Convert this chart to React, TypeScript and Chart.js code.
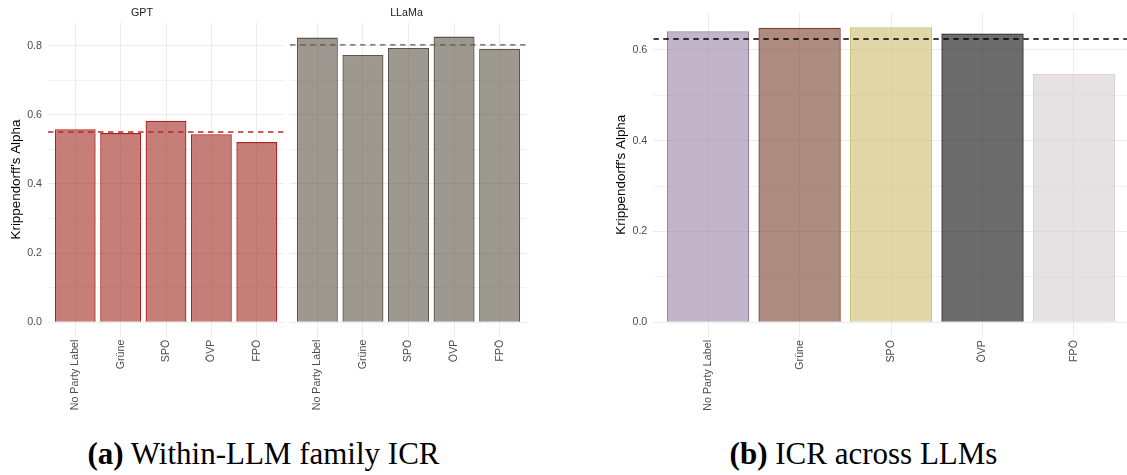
import React, { useEffect, useRef } from 'react';
import { Chart, registerables } from 'chart.js';

Chart.register(...registerables);

// ---------- data ----------
const categories = ['No Party Label', 'Grüne', 'SPÖ', 'ÖVP', 'FPÖ'];
const gptAlpha = [0.558, 0.547, 0.583, 0.544, 0.521];
const llamaAlpha = [0.823, 0.773, 0.793, 0.826, 0.791];
const acrossAlpha = [0.641, 0.649, 0.65, 0.636, 0.547];
const gptMean = 0.55;
const llamaMean = 0.802;
const acrossMean = 0.624;
const yTicksA = [0, 0.1, 0.2, 0.3, 0.4, 0.5, 0.6, 0.7, 0.8];
const yTicksB = [0, 0.1, 0.2, 0.3, 0.4, 0.5, 0.6];
const facetTitles = ['GPT', 'LLaMa'];
const yAxisTitle = "Krippendorff's Alpha";
const captionA = ['(a)', 'Within-LLM family ICR'];
const captionB = ['(b)', 'ICR across LLMs'];

// ---------- styles ----------
const gptFill = 'rgba(160,40,32,0.6)';
const gptBorder = 'rgb(175,35,30)';
const llamaFill = 'rgba(93,85,70,0.6)';
const llamaBorder = 'rgb(93,85,70)';
const acrossFills = [
  'rgba(153,132,165,0.6)',
  'rgba(120,62,42,0.6)',
  'rgba(203,187,110,0.6)',
  'rgba(10,10,10,0.6)',
  'rgba(213,205,208,0.6)',
];
const acrossBorders = [
  'rgb(150,130,165)',
  'rgb(125,62,45)',
  'rgb(210,192,120)',
  'rgb(25,25,25)',
  'rgb(218,208,213)',
];

const SANS = "'Liberation Sans', Arial, Helvetica, sans-serif";
const TICK_SIZE = 10.7;
const TITLE_SIZE = 13.4;

interface PanelOpts {
  values: number[];
  mean: number;
  fills: string | string[];
  borders: string | string[];
  meanColor: string;
  title?: string;
  yMin: number;
  yMax: number;
  yTicks: number[];
  showY: boolean;
  yWidth: number;
  yTitlePad: number;
  xMin: number;
  xMax: number;
  xHeight: number;
  padTop: number;
  padRight: number;
}

function makeConfig(o: PanelOpts): any {
  const isMajor = (v: number) => Math.round(v * 10) % 2 === 0;
  return {
    type: 'bar',
    data: {
      datasets: [
        {
          type: 'line',
          data: [
            { x: o.xMin, y: o.mean },
            { x: o.xMax, y: o.mean },
          ],
          borderColor: o.meanColor,
          borderWidth: 1.4,
          borderDash: [5.5, 4.5],
          pointRadius: 0,
          fill: false,
          order: 0,
        },
        {
          type: 'bar',
          data: o.values.map((v, i) => ({ x: i + 1, y: v })),
          backgroundColor: o.fills,
          borderColor: o.borders,
          borderWidth: 1.3,
          barPercentage: 0.9,
          categoryPercentage: 1,
          order: 1,
        },
      ],
    },
    options: {
      animation: false,
      responsive: false,
      maintainAspectRatio: false,
      layout: { padding: { top: o.padTop, right: o.padRight, left: 0, bottom: 0 } },
      plugins: {
        legend: { display: false },
        tooltip: { enabled: false },
        title: o.title
          ? {
              display: true,
              text: o.title,
              color: '#1A1A1A',
              font: { family: SANS, size: TICK_SIZE, weight: 'normal' },
              padding: { top: 6.2, bottom: 3.46 },
            }
          : { display: false },
      },
      scales: {
        x: {
          type: 'linear',
          min: o.xMin,
          max: o.xMax,
          offset: false,
          afterBuildTicks: (s: any) => {
            s.ticks = categories.map((_, i) => ({ value: i + 1 }));
          },
          afterFit: (s: any) => {
            s.height = o.xHeight;
          },
          ticks: {
            autoSkip: false,
            maxRotation: 90,
            minRotation: 90,
            padding: 3,
            color: '#4D4D4D',
            font: { family: SANS, size: TICK_SIZE },
            callback: (_v: any, i: number) => categories[i],
          },
          grid: { color: '#EBEBEB', lineWidth: 1, drawTicks: false, offset: false },
          border: { display: false },
        },
        y: {
          type: 'linear',
          min: o.yMin,
          max: o.yMax,
          afterBuildTicks: (s: any) => {
            s.ticks = o.yTicks.map((v) => ({ value: v }));
          },
          afterFit: (s: any) => {
            s.width = o.yWidth;
          },
          ticks: {
            display: o.showY,
            padding: 6,
            color: '#4D4D4D',
            font: { family: SANS, size: TICK_SIZE },
            callback: (v: number) => (isMajor(v) ? v.toFixed(1) : ''),
          },
          title: {
            display: o.showY,
            text: yAxisTitle,
            color: '#000000',
            font: { family: SANS, size: TITLE_SIZE },
            padding: { top: o.yTitlePad, bottom: 0 },
          },
          grid: {
            drawTicks: false,
            color: (c: any) => (c.tick && isMajor(c.tick.value) ? '#EBEBEB' : '#F2F2F2'),
            lineWidth: 1,
          },
          border: { display: false },
        },
      },
    },
  };
}

function Panel({ left, width, height, opts }: { left: number; width: number; height: number; opts: PanelOpts }) {
  const ref = useRef<HTMLCanvasElement | null>(null);
  useEffect(() => {
    if (!ref.current) return;
    const chart = new Chart(ref.current, makeConfig(opts));
    return () => chart.destroy();
  }, []);
  return (
    <canvas
      ref={ref}
      width={width}
      height={height}
      style={{ position: 'absolute', left, top: 0, width, height }}
    />
  );
}

const yMinA = -0.0413;
const yMaxA = 0.8667;
const yMinB = -0.0325;
const yMaxB = 0.6825;

export default function App() {
  const captionStyle: React.CSSProperties = {
    position: 'absolute',
    top: 436,
    textAlign: 'center',
    fontFamily: "'Liberation Serif', 'Times New Roman', serif",
    fontSize: 31,
    color: '#000',
    whiteSpace: 'nowrap',
    lineHeight: '36px',
  };
  return (
    <div style={{ position: 'absolute', left: 0, top: 0, width: 1127, height: 475, background: '#fff' }}>
      <Panel
        left={0}
        width={286}
        height={420}
        opts={{
          values: gptAlpha,
          mean: gptMean,
          fills: gptFill,
          borders: gptBorder,
          meanColor: 'rgb(190,40,35)',
          title: facetTitles[0],
          yMin: yMinA,
          yMax: yMaxA,
          yTicks: yTicksA,
          showY: true,
          yWidth: 48,
          yTitlePad: 8.7,
          xMin: 0.4,
          xMax: 5.6,
          xHeight: 83.4,
          padTop: 0,
          padRight: 2,
        }}
      />
      <Panel
        left={286}
        width={244}
        height={420}
        opts={{
          values: llamaAlpha,
          mean: llamaMean,
          fills: llamaFill,
          borders: llamaBorder,
          meanColor: 'rgb(95,88,78)',
          title: facetTitles[1],
          yMin: yMinA,
          yMax: yMaxA,
          yTicks: yTicksA,
          showY: false,
          yWidth: 4,
          yTitlePad: 0,
          xMin: 0.4,
          xMax: 5.6,
          xHeight: 83.4,
          padTop: 0,
          padRight: 3,
        }}
      />
      <Panel
        left={600}
        width={527}
        height={420}
        opts={{
          values: acrossAlpha,
          mean: acrossMean,
          fills: acrossFills,
          borders: acrossBorders,
          meanColor: '#000000',
          yMin: yMinB,
          yMax: yMaxB,
          yTicks: yTicksB,
          showY: true,
          yWidth: 53.3,
          yTitlePad: 13.7,
          xMin: 0.4,
          xMax: 5.58,
          xHeight: 83,
          padTop: 1.3,
          padRight: 0,
        }}
      />
      <div style={{ ...captionStyle, left: 0, width: 527 }}>
        <b>{captionA[0]}</b> {captionA[1]}
      </div>
      <div style={{ ...captionStyle, left: 600, width: 527 }}>
        <b>{captionB[0]}</b> {captionB[1]}
      </div>
    </div>
  );
}
